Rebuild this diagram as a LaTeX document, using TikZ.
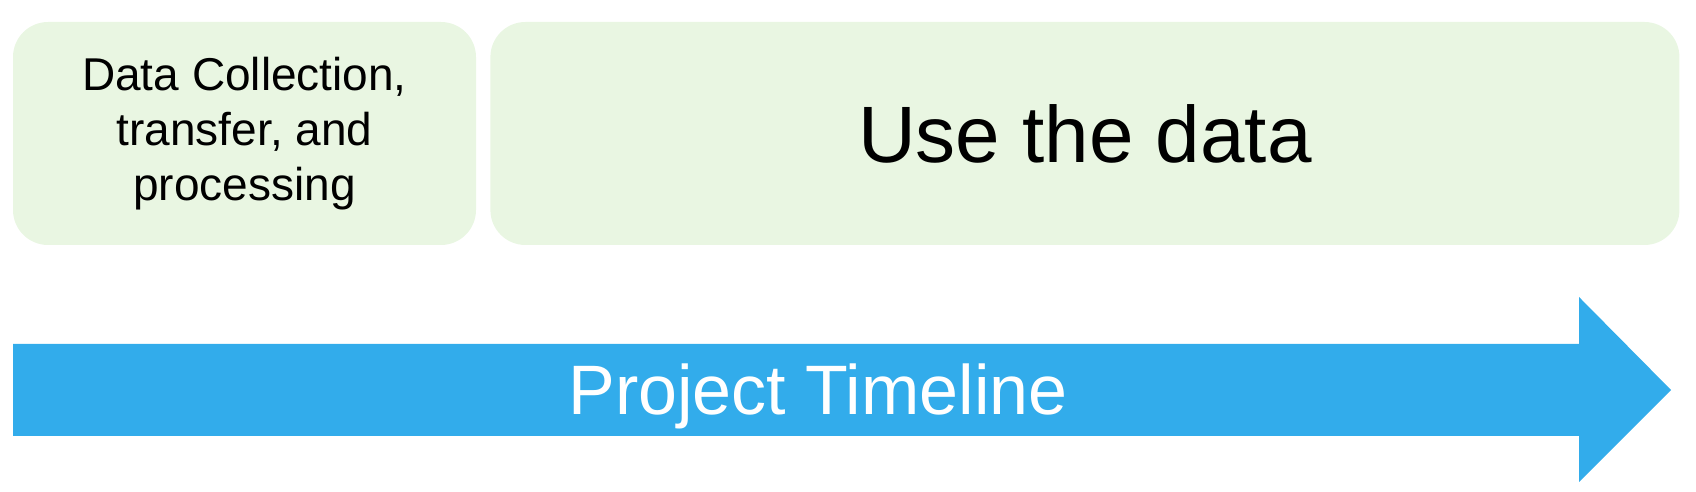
\documentclass[tikz,border=0pt]{standalone}
\usepackage{fontspec}
\setmainfont{Liberation Sans}
\usetikzlibrary{positioning}

\begin{document}
\begin{tikzpicture}[x=1pt,y=1pt]
	\definecolor{phaseColour}{RGB}{233, 246, 226}
	\definecolor{timelineColour}{RGB}{50, 172, 235}
	\tikzstyle{phase}=[rectangle, rounded corners=35pt, fill=phaseColour, minimum height=223pt, inner sep=0pt, align=center]
	\tikzstyle{timeline}=[fill=timelineColour]

	\useasboundingbox (0,0) rectangle (1696,492);

	\node [phase, minimum width=463pt, font=\fontsize{46}{55}\selectfont] (collect) at (244.5,358.5) {Data Collection,\\transfer, and\\processing};
	\node [phase, minimum width=1189pt, right=14pt of collect, font=\fontsize{80}{96}\selectfont] (use) {Use the data};

	\coordinate (tail) at (13,102);
	\coordinate (tip) at (1671,102);
	\fill [timeline] (13,56) -- (1579,56) -- (1579,10) -- (tip) -- (1579,195) -- (1579,148) -- (13,148) -- cycle;
	\node [text=white, font=\fontsize{70}{84}\selectfont, anchor=base] (timelineLabel) at (818,77) {Project Timeline};
\end{tikzpicture}
\end{document}
